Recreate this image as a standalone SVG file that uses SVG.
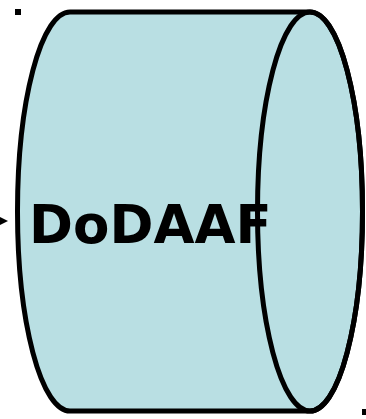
<svg xmlns="http://www.w3.org/2000/svg" width="366" height="419" viewBox="0 0 366 419">
<style>
.shape{fill:#b9dfe3;stroke:#000;stroke-width:5;stroke-linejoin:round}
.edge{fill:none;stroke:#000;stroke-width:5}
.lbl{font-family:"DejaVu Sans",sans-serif;font-weight:bold;font-size:53px;fill:#000}
.mark{fill:#000}
</style>
<rect width="366" height="419" fill="#fff"/>
<g id="connectors">
<polygon class="mark" points="0,217 8,221 0,225"/>
<rect class="mark" x="15" y="9" width="6" height="6"/>
<rect class="mark" x="362" y="409" width="6" height="6"/>
</g>
<g id="dodaaf">
<path class="shape" d="M70,12 H310 A52.5,199.5 0 0 1 310,411 H70 A52.5,199.5 0 0 1 70,12 Z"/>
<text class="lbl" x="29" y="243">DoDAAF</text>
<ellipse class="edge" cx="310" cy="211.5" rx="52.5" ry="199.5"/>
</g>
</svg>
